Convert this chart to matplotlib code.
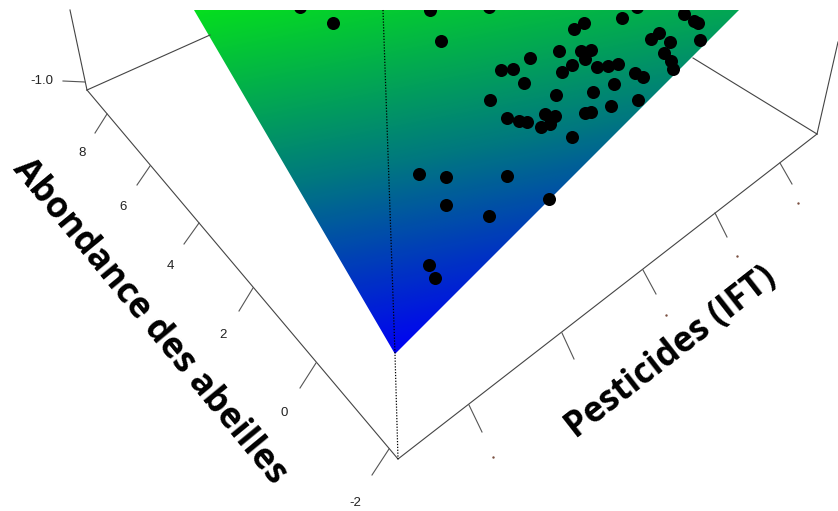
import numpy as np
import matplotlib
matplotlib.use("Agg")
import matplotlib.pyplot as plt
from matplotlib.colors import LinearSegmentedColormap
from matplotlib.patches import Polygon, Rectangle

point_x = [300, 333, 430, 489, 441, 622, 584, 574, 684, 694, 698, 637, 659, 651, 670, 700,
           559, 581, 591, 585, 530, 664, 671, 673, 572, 562, 597, 608, 618, 501, 513, 635,
           643, 524, 614, 593, 556, 490, 638, 611, 585, 591, 545, 555, 507, 519, 527, 550,
           541, 572, 419, 446, 507, 446, 489, 549, 429, 435]
point_y = [7, 23, 10, 7, 41, 18, 23, 29, 14, 21, 23, 7, 33, 39, 42, 40,
           51, 51, 50, 59, 58, 53, 61, 69, 65, 72, 67, 66, 64, 70, 69, 73,
           77, 83, 84, 92, 95, 100, 100, 106, 113, 112, 114, 116, 118, 121, 122, 124,
           127, 137, 174, 177, 176, 205, 216, 199, 265, 278]

plane_x = [194, 739, 395]
plane_y = [10, 10, 354]

dotted_x = [383, 395, 398]
dotted_y = [10, 354, 459]

box_lines = [
    ([70, 87], [10, 90]),
    ([87, 210], [90, 35]),
    ([87, 398], [90, 459]),
    ([398, 817], [459, 134]),
    ([817, 693], [134, 58]),
    ([817, 838], [134, 42]),
]

tick_lines = [
    ([63, 85], [81, 82]),
    ([107, 95], [114, 133]),
    ([150, 137], [166, 185]),
    ([199, 184], [223, 244]),
    ([253, 239], [288, 311]),
    ([316, 300], [363, 388]),
    ([389, 372], [449, 475]),
    ([780, 792], [163, 184]),
    ([715, 727], [213, 237]),
    ([643, 656], [270, 294]),
    ([562, 574], [333, 359]),
    ([469, 482], [405, 432]),
]

tick_text = ["-1.0", "8", "6", "4", "2", "0", "-2"]
tick_text_x = [42, 82, 123, 170, 223, 284, 355]
tick_text_y = [81, 153, 207, 266, 335, 413, 503]

speck_x = [798, 737, 666, 493]
speck_y = [203, 256, 315, 457]

fig = plt.figure(figsize=(8.38, 5.11), dpi=100)
ax = fig.add_axes([0, 0, 1, 1])
ax.set_xlim(0, 838)
ax.set_ylim(511, 0)
ax.axis("off")

# colour of the plane: blue at the tip, green towards the top left
cmap = LinearSegmentedColormap.from_list("plane", [(0, 0, 0.96), (0, 0.47, 0.5), (0.02, 0.87, 0.12)])
xx, yy = np.meshgrid(np.arange(150, 760), np.arange(0, 360))
shade = -0.000514 * (xx - 395) - 0.00261 * (yy - 354)
im = ax.imshow(shade, cmap=cmap, vmin=0, vmax=1, extent=(150, 760, 360, 0), aspect="auto", zorder=1)
ax.set_xlim(0, 838)
ax.set_ylim(511, 0)
clip = Polygon(np.column_stack([plane_x, plane_y]), closed=True, transform=ax.transData)
im.set_clip_path(clip)

for xs, ys in box_lines:
    ax.plot(xs, ys, color="#444444", lw=0.8, zorder=2)
for xs, ys in tick_lines:
    ax.plot(xs, ys, color="#555555", lw=0.8, zorder=2)
ax.plot(dotted_x, dotted_y, color="black", lw=0.9, ls=(0, (1, 1.3)), zorder=3)

pts = ax.scatter(point_x, point_y, s=88, color="black", linewidths=0, zorder=4)
pts.set_clip_path(Rectangle((0, 10), 838, 501, transform=ax.transData))

for label, x, y in zip(tick_text, tick_text_x, tick_text_y):
    ax.text(x, y, label, fontsize=9.5, family="Liberation Sans", color="#222222",
            ha="center", va="center", zorder=5)

ax.scatter(speck_x, speck_y, s=3, color="#7a5040", linewidths=0, zorder=5)

ax.text(149, 322, "Abondance des abeilles", fontsize=25.3, family="Open Sans", weight="bold",
        rotation=-50.5, rotation_mode="anchor", ha="center", va="center", color="black", zorder=6)
ax.text(671, 353, "Pesticides (IFT)", fontsize=25, family="Open Sans", weight="bold",
        rotation=38, rotation_mode="anchor", ha="center", va="center", color="black", zorder=6)

fig.savefig("out.png", dpi=100)
